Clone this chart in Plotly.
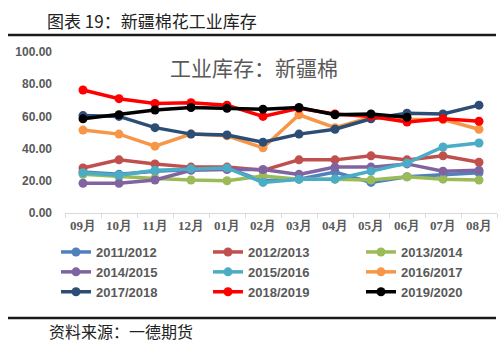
import plotly.graph_objects as go

months = ["09月", "10月", "11月", "12月", "01月", "02月", "03月", "04月", "05月", "06月", "07月", "08月"]

s2011 = [25.5, 24.0, 26.0, 27.0, 28.0, 20.0, 21.0, 25.5, 19.0, 22.5, 23.5, 25.0]
s2012 = [28.0, 33.0, 30.5, 28.5, 28.5, 26.5, 33.0, 33.0, 35.5, 33.0, 35.5, 31.5]
s2013 = [24.0, 22.5, 21.5, 20.5, 20.0, 23.0, 21.0, 21.0, 20.5, 22.5, 21.0, 20.5]
s2014 = [18.5, 18.5, 20.5, 26.5, 27.0, 27.0, 24.0, 28.5, 28.5, 30.5, 26.0, 26.5]
s2015 = [25.0, 23.5, 26.5, 27.5, 28.0, 19.0, 21.0, 21.0, 26.0, 31.0, 41.0, 43.5]
s2016 = [51.5, 49.0, 41.5, 49.0, 48.0, 40.5, 61.0, 53.0, 59.5, 58.0, 58.0, 52.0]
s2017 = [60.5, 60.0, 53.0, 49.0, 48.5, 44.0, 49.0, 52.0, 58.5, 62.0, 61.5, 67.0]
s2018 = [76.4, 71.0, 68.0, 68.5, 67.0, 60.0, 65.0, 61.5, 60.0, 56.5, 58.5, 57.0]
s2019 = [58.5, 61.0, 64.0, 65.5, 65.0, 64.5, 65.5, 61.0, 61.5, 59.5]

series = [
    ("2011/2012", s2011, "#4F81BD"),
    ("2012/2013", s2012, "#C0504D"),
    ("2013/2014", s2013, "#9BBB59"),
    ("2014/2015", s2014, "#8064A2"),
    ("2015/2016", s2015, "#4BACC6"),
    ("2016/2017", s2016, "#F79646"),
    ("2017/2018", s2017, "#2C4D75"),
    ("2018/2019", s2018, "#FF0000"),
    ("2019/2020", s2019, "#000000"),
]

legend_ids = ["legend", "legend2", "legend3"]

fig = go.Figure()
for i, (name, vals, color) in enumerate(series):
    fig.add_trace(go.Scatter(
        x=months[:len(vals)], y=vals, name=name,
        mode="lines+markers",
        line=dict(color=color, width=3.5),
        marker=dict(color=color, size=9),
        legend=legend_ids[i % 3],
    ))

legend_font = dict(family="Liberation Sans, Arial, sans-serif", size=13, color="#595959", weight="bold")
common_legend = dict(orientation="v", xref="container", yref="container",
                     xanchor="left", yanchor="top", font=legend_font,
                     bgcolor="rgba(0,0,0,0)", tracegroupgap=0, itemwidth=30)

fig.update_layout(
    width=500, height=344,
    margin=dict(l=65, r=3, t=52, b=131, autoexpand=False),
    paper_bgcolor="white", plot_bgcolor="white",
    showlegend=True,
    legend=dict(x=56 / 500, y=1 - 237 / 344, **common_legend),
    legend2=dict(x=208 / 500, y=1 - 237 / 344, **common_legend),
    legend3=dict(x=361 / 500, y=1 - 237 / 344, **common_legend),
    xaxis=dict(
        type="category", categoryorder="array", categoryarray=months,
        range=[-0.5, 11.5],
        showline=True, linecolor="#d9d9d9", linewidth=1,
        ticks="outside", ticklen=4, tickcolor="#d9d9d9", tickson="boundaries",
        showgrid=False, zeroline=False, automargin=False,
        tickfont=dict(family="Liberation Serif, serif", size=13, color="#595959", weight="bold"),
    ),
    yaxis=dict(
        range=[0, 100], dtick=20, tickformat=".2f",
        showgrid=False, zeroline=False, showline=False, automargin=False,
        ticks="", ticklabelstandoff=12,
        tickfont=dict(family="Liberation Sans, Arial, sans-serif", size=12, color="#595959", weight="bold"),
    ),
)

# header, chart title, rules and source line
fig.add_annotation(text="图表 19：新疆棉花工业库存", xref="paper", yref="paper",
                   x=(45 - 65) / 432, y=1 + (52 - 20) / 161, xanchor="left", yanchor="middle",
                   showarrow=False,
                   font=dict(family="Noto Sans CJK SC", size=17, color="#222222"))
fig.add_annotation(text="工业库存：新疆棉", xref="paper", yref="paper",
                   x=(254 - 65) / 432, y=(213 - 67) / 161, xanchor="center", yanchor="middle",
                   showarrow=False,
                   font=dict(family="Noto Sans CJK SC", size=21, color="#595959"))
fig.add_annotation(text="资料来源：一德期货", xref="paper", yref="paper",
                   x=(47 - 65) / 432, y=(213 - 331) / 161, xanchor="left", yanchor="middle",
                   showarrow=False,
                   font=dict(family="Noto Sans CJK SC", size=16, color="#222222"))
for ypx in (35, 318):
    fig.add_shape(type="line", xref="paper", yref="paper",
                  x0=(8 - 65) / 432, x1=(496 - 65) / 432,
                  y0=(213 - ypx) / 161, y1=(213 - ypx) / 161,
                  line=dict(color="#1a1a1a", width=2.5))

fig.write_html("out.html")
